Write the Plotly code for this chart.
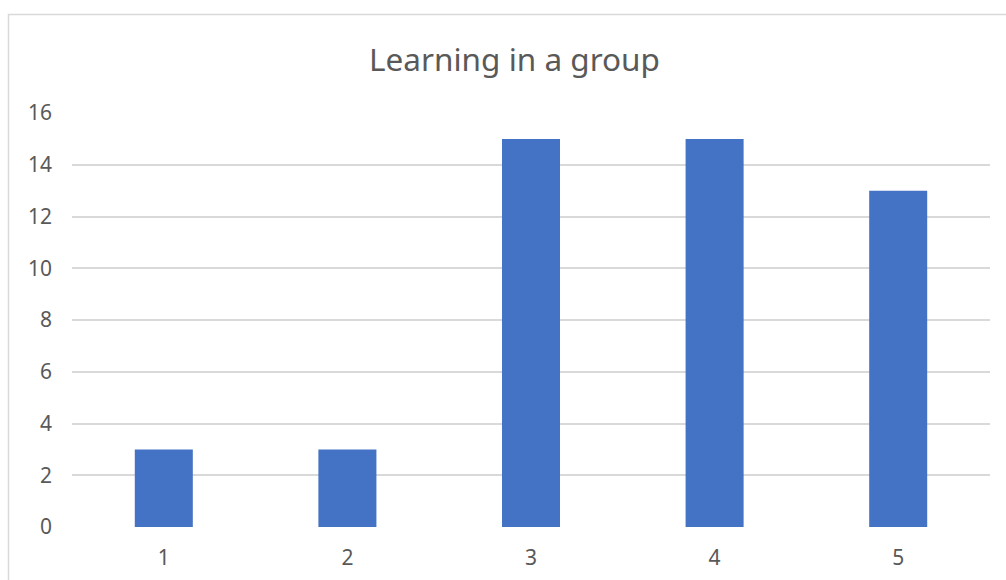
import plotly.graph_objects as go

# Ratings on a 1-5 scale and how many respondents chose each
categories = ["1", "2", "3", "4", "5"]
counts = [3, 3, 15, 15, 13]
y_ticks = [0, 2, 4, 6, 8, 10, 12, 14, 16]

W, H = 1006, 580
left, right, top, bottom = 72, 16, 113, 53
plot_w = W - left - right
plot_h = H - top - bottom

fig = go.Figure(
    go.Bar(
        x=categories,
        y=counts,
        marker=dict(color="#4472C4", line=dict(width=0)),
        hoverinfo="x+y",
    )
)

# Light chart frame around the whole chart area (runs off the right and bottom edges)
def px_to_paper_x(px):
    return (px - left) / plot_w

def px_to_paper_y(py):
    return (H - bottom - py) / plot_h

fig.add_shape(
    type="rect",
    xref="paper", yref="paper",
    x0=px_to_paper_x(8.5), x1=px_to_paper_x(1020),
    y0=px_to_paper_y(600), y1=px_to_paper_y(14.5),
    line=dict(color="#D9D9D9", width=1.5),
    fillcolor="rgba(0,0,0,0)",
    layer="below",
)

fig.update_layout(
    width=W,
    height=H,
    margin=dict(l=left, r=right, t=top, b=bottom, pad=0),
    paper_bgcolor="white",
    plot_bgcolor="white",
    bargap=0.684,
    showlegend=False,
    title=dict(
        text="Learning in a group",
        x=(370 + 659) / 2 / W,
        xanchor="center",
        y=1 - 60 / H,
        yanchor="middle",
        font=dict(family="Noto Sans", size=31.5, color="#595959"),
    ),
    font=dict(family="Noto Sans", color="#595959", size=21),
    xaxis=dict(
        type="category",
        automargin=False,
        showgrid=False,
        showline=False,
        zeroline=False,
        ticks="",
        ticklabelstandoff=16,
        tickfont=dict(size=21, color="#595959"),
    ),
    yaxis=dict(
        range=[0, 16],
        tickvals=y_ticks,
        automargin=False,
        showgrid=True,
        gridcolor="#D9D9D9",
        gridwidth=1.5,
        zeroline=False,
        showline=False,
        ticks="",
        ticklabelstandoff=19,
        tickfont=dict(size=21, color="#595959"),
    ),
)

fig.write_html("out.html")
